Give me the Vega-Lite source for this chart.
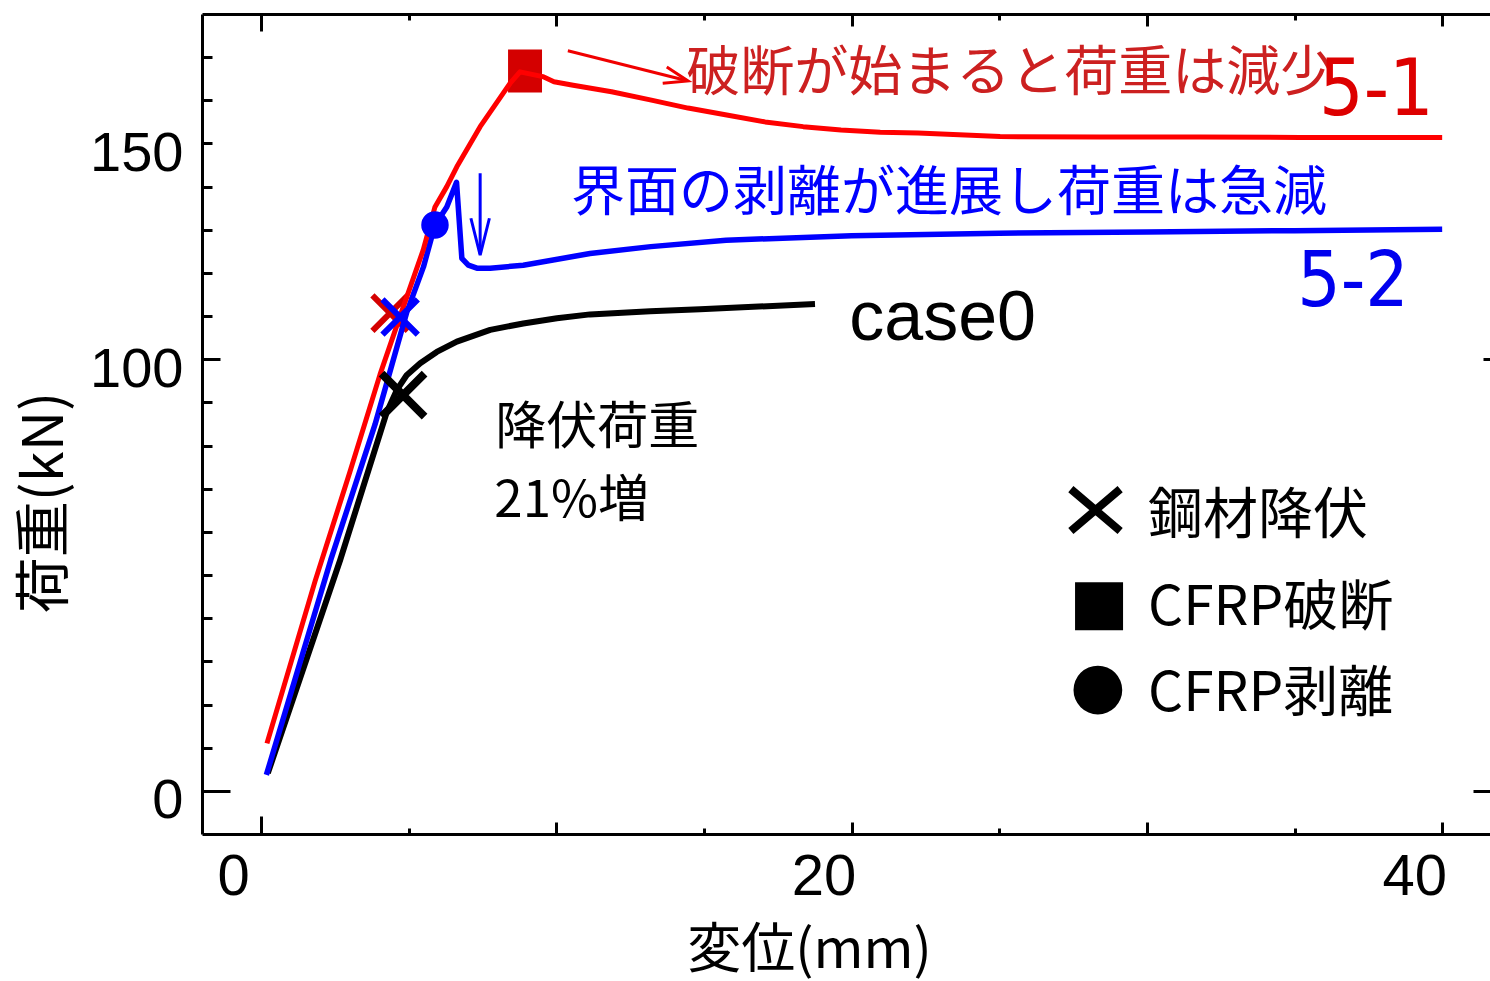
{
"$schema": "https://vega.github.io/schema/vega-lite/v6.json",
"width": 1288, "height": 820,
"autosize": {"type": "none"},
"padding": {"left": 202, "top": 14, "right": 0, "bottom": 147},
"background": "white",
"config": {"view": {"stroke": null}, "axis": {"grid": false, "domainColor": "#000000", "domainWidth": 3, "tickColor": "#000000", "tickWidth": 3, "labelColor": "#000000", "titleColor": "#000000"}},
"resolve": {"axis": {"x": "independent", "y": "independent"}},
"layer": [
{"data": {"values": [{"x": 8.94, "y": 166.8, "event": "CFRP破断"}]},
 "mark": {"type": "point", "shape": "M-0.79,-1H0.79V1H-0.79Z", "filled": true, "size": 1849, "color": "#d40000", "opacity": 1},
 "encoding": {"x": {"field": "x", "type": "quantitative", "scale": {"domain": [-2, 41.62], "nice": false, "zero": false}, "axis": null},
  "y": {"field": "y", "type": "quantitative", "scale": {"domain": [-10, 180], "nice": false, "zero": false}, "axis": null}}},
{"data": {"values": [{"x": 4.37, "y": 110.7, "event": "鋼材降伏"}]},
 "mark": {"type": "point", "shape": "M-1,-1L1,1M-1,1L1,-1", "filled": false, "size": 1250, "strokeWidth": 6, "strokeCap": "butt", "color": "#d40000", "opacity": 1},
 "encoding": {"x": {"field": "x", "type": "quantitative", "scale": {"domain": [-2, 41.62], "nice": false, "zero": false}, "axis": null},
  "y": {"field": "y", "type": "quantitative", "scale": {"domain": [-10, 180], "nice": false, "zero": false}, "axis": null}}},
{"data": {"values": [
  {"s": "case0", "x": 0.23, "y": 4.1}, {"s": "case0", "x": 2.68, "y": 53.5}, {"s": "case0", "x": 4.26, "y": 87.8}, {"s": "case0", "x": 4.60, "y": 92.9}, {"s": "case0", "x": 4.93, "y": 96.3}, {"s": "case0", "x": 5.39, "y": 99.1}, {"s": "case0", "x": 5.95, "y": 101.7}, {"s": "case0", "x": 6.63, "y": 104.1}, {"s": "case0", "x": 7.76, "y": 106.8}, {"s": "case0", "x": 8.88, "y": 108.3}, {"s": "case0", "x": 10.02, "y": 109.5}, {"s": "case0", "x": 11.14, "y": 110.4}, {"s": "case0", "x": 13.18, "y": 111.1}, {"s": "case0", "x": 14.87, "y": 111.6}, {"s": "case0", "x": 18.76, "y": 112.8},
  {"s": "5-2", "x": 0.18, "y": 3.7}, {"s": "5-2", "x": 2.36, "y": 53.5}, {"s": "5-2", "x": 3.86, "y": 84.9}, {"s": "5-2", "x": 4.93, "y": 110.8}, {"s": "5-2", "x": 5.50, "y": 121.4}, {"s": "5-2", "x": 5.89, "y": 131.1}, {"s": "5-2", "x": 6.29, "y": 135.3}, {"s": "5-2", "x": 6.62, "y": 141.0}, {"s": "5-2", "x": 6.80, "y": 123.4}, {"s": "5-2", "x": 7.02, "y": 121.8}, {"s": "5-2", "x": 7.31, "y": 121.1}, {"s": "5-2", "x": 7.76, "y": 121.1}, {"s": "5-2", "x": 8.88, "y": 121.8}, {"s": "5-2", "x": 11.14, "y": 124.5}, {"s": "5-2", "x": 13.2, "y": 126.1}, {"s": "5-2", "x": 15.75, "y": 127.6}, {"s": "5-2", "x": 20.0, "y": 128.6}, {"s": "5-2", "x": 25.0, "y": 129.2}, {"s": "5-2", "x": 30.0, "y": 129.5}, {"s": "5-2", "x": 35.0, "y": 129.8}, {"s": "5-2", "x": 40.0, "y": 130.1},
  {"s": "5-1", "x": 0.20, "y": 11.0}, {"s": "5-1", "x": 1.83, "y": 48.6}, {"s": "5-1", "x": 3.0, "y": 73.7}, {"s": "5-1", "x": 4.03, "y": 96.5}, {"s": "5-1", "x": 4.77, "y": 111.2}, {"s": "5-1", "x": 5.49, "y": 125.3}, {"s": "5-1", "x": 5.89, "y": 135.3}, {"s": "5-1", "x": 6.29, "y": 140.0}, {"s": "5-1", "x": 6.63, "y": 144.6}, {"s": "5-1", "x": 7.42, "y": 153.9}, {"s": "5-1", "x": 8.43, "y": 163.9}, {"s": "5-1", "x": 8.77, "y": 166.6}, {"s": "5-1", "x": 9.54, "y": 165.5}, {"s": "5-1", "x": 9.92, "y": 164.3}, {"s": "5-1", "x": 10.57, "y": 163.5}, {"s": "5-1", "x": 11.87, "y": 162.0}, {"s": "5-1", "x": 13.18, "y": 160.1}, {"s": "5-1", "x": 14.46, "y": 158.2}, {"s": "5-1", "x": 15.77, "y": 156.6}, {"s": "5-1", "x": 17.07, "y": 155.0}, {"s": "5-1", "x": 18.36, "y": 153.9}, {"s": "5-1", "x": 19.64, "y": 153.1}, {"s": "5-1", "x": 20.97, "y": 152.6}, {"s": "5-1", "x": 22.25, "y": 152.4}, {"s": "5-1", "x": 25.03, "y": 151.6}, {"s": "5-1", "x": 28.42, "y": 151.5}, {"s": "5-1", "x": 31.80, "y": 151.5}, {"s": "5-1", "x": 35.19, "y": 151.4}, {"s": "5-1", "x": 40.0, "y": 151.4}
 ]},
 "mark": {"type": "line", "strokeCap": "butt", "strokeJoin": "round"},
 "encoding": {
  "x": {"field": "x", "type": "quantitative", "scale": {"domain": [-2, 41.62], "nice": false, "zero": false},
   "axis": {"orient": "bottom", "values": [0, 20, 40], "ticks": false, "domain": true, "format": "d", "labelFont": "Liberation Sans, sans-serif", "labelFontSize": 58, "labelPadding": 14, "labelBaseline": "top", "labelAlign": "center", "labelOffset": -28, "labelFlush": false, "labelOverlap": false, "labelBound": false,
    "title": "変位(mm)", "titleFont": "Noto Sans CJK JP", "titleFontSize": 54, "titleFontWeight": "normal", "titleX": 607, "titleY": 117, "titleAlign": "center", "titleBaseline": "middle"}},
  "y": {"field": "y", "type": "quantitative", "scale": {"domain": [-10, 180], "nice": false, "zero": false},
   "axis": {"orient": "left", "values": [0, 100, 150], "ticks": false, "domain": true, "format": "d", "labelFont": "Liberation Sans, sans-serif", "labelFontSize": 56, "labelPadding": 19, "labelBaseline": "middle", "labelAlign": "right", "labelOffset": 10, "labelFlush": false, "labelOverlap": false, "labelBound": false,
    "title": "荷重(kN)", "titleFont": "Noto Sans CJK JP", "titleFontSize": 56, "titleFontWeight": "normal", "titleX": -157, "titleY": 488, "titleAngle": 270, "titleAlign": "center", "titleBaseline": "middle"}},
  "color": {"field": "s", "type": "nominal", "scale": {"domain": ["case0", "5-2", "5-1"], "range": ["#000000", "#0000ff", "#ff0000"]}, "legend": null},
  "strokeWidth": {"field": "s", "type": "nominal", "scale": {"domain": ["case0", "5-2", "5-1"], "range": [6, 5, 5]}, "legend": null}}},
{"data": {"values": [{"x": 4.71, "y": 109.8, "event": "鋼材降伏"}]},
 "mark": {"type": "point", "shape": "M-1,-1L1,1M-1,1L1,-1", "filled": false, "size": 1250, "strokeWidth": 6, "strokeCap": "butt", "color": "#0000ff", "opacity": 1},
 "encoding": {
  "x": {"field": "x", "type": "quantitative", "scale": {"domain": [-2, 41.62], "nice": false, "zero": false},
   "axis": {"orient": "bottom", "values": [0, 5, 10, 15, 20, 25, 30, 35, 40], "domain": false, "labels": false, "title": null, "tickSize": {"condition": [{"test": "datum.value === 0", "value": -18}, {"test": "datum.value % 10 === 0", "value": -12}], "value": -6}}},
  "y": {"field": "y", "type": "quantitative", "scale": {"domain": [-10, 180], "nice": false, "zero": false},
   "axis": {"orient": "left", "values": [0, 10, 20, 30, 40, 50, 60, 70, 80, 90, 100, 110, 120, 130, 140, 150, 160, 170], "domain": false, "labels": false, "title": null, "tickSize": {"condition": [{"test": "datum.value === 0", "value": -28}, {"test": "datum.value === 100", "value": -18}], "value": -10}}}}},
{"data": {"values": [{"x": 4.81, "y": 91.7, "event": "鋼材降伏"}]},
 "mark": {"type": "point", "shape": "M-1,-1L1,1M-1,1L1,-1", "filled": false, "size": 1850, "strokeWidth": 8, "strokeCap": "butt", "color": "#000000", "opacity": 1},
 "encoding": {
  "x": {"field": "x", "type": "quantitative", "scale": {"domain": [-2, 41.62], "nice": false, "zero": false},
   "axis": {"orient": "top", "values": [0, 5, 10, 15, 20, 25, 30, 35, 40], "domain": true, "labels": false, "title": null, "tickSize": {"condition": [{"test": "datum.value === 0", "value": -17}, {"test": "datum.value % 10 === 0", "value": -12}], "value": -6}}},
  "y": {"field": "y", "type": "quantitative", "scale": {"domain": [-10, 180], "nice": false, "zero": false},
   "axis": {"orient": "right", "values": [0, 100], "domain": false, "labels": false, "title": null, "tickSize": {"condition": [{"test": "datum.value === 0", "value": -17}], "value": -7}}}}},
{"data": {"values": [{"x": 5.89, "y": 131.1, "event": "CFRP剥離"}]},
 "mark": {"type": "point", "shape": "circle", "filled": true, "size": 755, "color": "#0000ff", "opacity": 1},
 "encoding": {"x": {"field": "x", "type": "quantitative", "scale": {"domain": [-2, 41.62], "nice": false, "zero": false}, "axis": null},
  "y": {"field": "y", "type": "quantitative", "scale": {"domain": [-10, 180], "nice": false, "zero": false}, "axis": null}}},
{"data": {"values": [{"x": 28.26, "y": 65.06, "event": "鋼材降伏"}]},
 "mark": {"type": "point", "shape": "M-1,-0.85L1,0.85M-1,0.85L1,-0.85", "filled": false, "size": 2430, "strokeWidth": 8, "strokeCap": "butt", "color": "#000000", "opacity": 1},
 "encoding": {"x": {"field": "x", "type": "quantitative", "scale": {"domain": [-2, 41.62], "nice": false, "zero": false}, "axis": null},
  "y": {"field": "y", "type": "quantitative", "scale": {"domain": [-10, 180], "nice": false, "zero": false}, "axis": null}}},
{"data": {"values": [{"x": 28.38, "y": 42.8, "event": "CFRP破断"}]},
 "mark": {"type": "point", "shape": "square", "filled": true, "size": 2304, "color": "#000000", "opacity": 1},
 "encoding": {"x": {"field": "x", "type": "quantitative", "scale": {"domain": [-2, 41.62], "nice": false, "zero": false}, "axis": null},
  "y": {"field": "y", "type": "quantitative", "scale": {"domain": [-10, 180], "nice": false, "zero": false}, "axis": null}}},
{"data": {"values": [{"x": 28.34, "y": 23.36, "event": "CFRP剥離"}]},
 "mark": {"type": "point", "shape": "circle", "filled": true, "size": 2376, "color": "#000000", "opacity": 1},
 "encoding": {"x": {"field": "x", "type": "quantitative", "scale": {"domain": [-2, 41.62], "nice": false, "zero": false}, "axis": null},
  "y": {"field": "y", "type": "quantitative", "scale": {"domain": [-10, 180], "nice": false, "zero": false}, "axis": null}}},
{"data": {"values": [{"x": 10.39, "y": 171.5, "x2": 14.40, "y2": 164.6}]},
 "mark": {"type": "rule", "strokeWidth": 3, "color": "#f00000"},
 "encoding": {"x": {"field": "x", "type": "quantitative", "scale": {"domain": [-2, 41.62], "nice": false, "zero": false}, "axis": null},
  "y": {"field": "y", "type": "quantitative", "scale": {"domain": [-10, 180], "nice": false, "zero": false}, "axis": null},
  "x2": {"field": "x2"}, "y2": {"field": "y2"}}},
{"data": {"values": [{"x": 14.46, "y": 164.5}]},
 "mark": {"type": "point", "shape": "M-1,-0.35L0,0L-1,0.35", "filled": false, "size": 2304, "angle": 14, "strokeWidth": 3, "color": "#f00000", "opacity": 1},
 "encoding": {"x": {"field": "x", "type": "quantitative", "scale": {"domain": [-2, 41.62], "nice": false, "zero": false}, "axis": null},
  "y": {"field": "y", "type": "quantitative", "scale": {"domain": [-10, 180], "nice": false, "zero": false}, "axis": null}}},
{"data": {"values": [{"x": 7.42, "y": 143.1, "x2": 7.42, "y2": 124.4}]},
 "mark": {"type": "rule", "strokeWidth": 3, "color": "#0000ff"},
 "encoding": {"x": {"field": "x", "type": "quantitative", "scale": {"domain": [-2, 41.62], "nice": false, "zero": false}, "axis": null},
  "y": {"field": "y", "type": "quantitative", "scale": {"domain": [-10, 180], "nice": false, "zero": false}, "axis": null},
  "x2": {"field": "x2"}, "y2": {"field": "y2"}}},
{"data": {"values": [{"x": 7.42, "y": 124.1}]},
 "mark": {"type": "point", "shape": "M-1,-0.25L0,0L-1,0.25", "filled": false, "size": 5476, "angle": 90, "strokeWidth": 3, "color": "#0000ff", "opacity": 1},
 "encoding": {"x": {"field": "x", "type": "quantitative", "scale": {"domain": [-2, 41.62], "nice": false, "zero": false}, "axis": null},
  "y": {"field": "y", "type": "quantitative", "scale": {"domain": [-10, 180], "nice": false, "zero": false}, "axis": null}}},
{"data": {"values": [{"x": 14.40, "y": 165.8, "text": "破断が始まると荷重は減少"}]},
 "mark": {"type": "text", "align": "left", "baseline": "middle", "font": "Noto Sans CJK JP", "fontSize": 54, "color": "#cc2020"},
 "encoding": {"x": {"field": "x", "type": "quantitative", "scale": {"domain": [-2, 41.62], "nice": false, "zero": false}, "axis": null},
  "y": {"field": "y", "type": "quantitative", "scale": {"domain": [-10, 180], "nice": false, "zero": false}, "axis": null},
  "text": {"field": "text"}}},
{"data": {"values": [{"x": 35.83, "y": 162.0, "text": "5-1"}]},
 "mark": {"type": "text", "align": "left", "baseline": "middle", "font": "DejaVu Sans Condensed, DejaVu Sans, sans-serif", "fontSize": 78, "color": "#dd0000"},
 "encoding": {"x": {"field": "x", "type": "quantitative", "scale": {"domain": [-2, 41.62], "nice": false, "zero": false}, "axis": null},
  "y": {"field": "y", "type": "quantitative", "scale": {"domain": [-10, 180], "nice": false, "zero": false}, "axis": null},
  "text": {"field": "text"}}},
{"data": {"values": [{"x": 10.50, "y": 138.0, "text": "界面の剥離が進展し荷重は急減"}]},
 "mark": {"type": "text", "align": "left", "baseline": "middle", "font": "Noto Sans CJK JP", "fontSize": 54, "color": "#0000ff"},
 "encoding": {"x": {"field": "x", "type": "quantitative", "scale": {"domain": [-2, 41.62], "nice": false, "zero": false}, "axis": null},
  "y": {"field": "y", "type": "quantitative", "scale": {"domain": [-10, 180], "nice": false, "zero": false}, "axis": null},
  "text": {"field": "text"}}},
{"data": {"values": [{"x": 35.09, "y": 117.6, "text": "5-2"}]},
 "mark": {"type": "text", "align": "left", "baseline": "middle", "font": "DejaVu Sans Condensed, DejaVu Sans, sans-serif", "fontSize": 76, "color": "#0000ee"},
 "encoding": {"x": {"field": "x", "type": "quantitative", "scale": {"domain": [-2, 41.62], "nice": false, "zero": false}, "axis": null},
  "y": {"field": "y", "type": "quantitative", "scale": {"domain": [-10, 180], "nice": false, "zero": false}, "axis": null},
  "text": {"field": "text"}}},
{"data": {"values": [{"x": 19.92, "y": 109.3, "text": "case0"}]},
 "mark": {"type": "text", "align": "left", "baseline": "middle", "font": "Liberation Sans, sans-serif", "fontSize": 70, "color": "#000000"},
 "encoding": {"x": {"field": "x", "type": "quantitative", "scale": {"domain": [-2, 41.62], "nice": false, "zero": false}, "axis": null},
  "y": {"field": "y", "type": "quantitative", "scale": {"domain": [-10, 180], "nice": false, "zero": false}, "axis": null},
  "text": {"field": "text"}}},
{"data": {"values": [{"x": 7.93, "y": 83.9, "text": "降伏荷重"}, {"x": 7.90, "y": 66.9, "text": "21%増"}]},
 "mark": {"type": "text", "align": "left", "baseline": "middle", "font": "Noto Sans CJK JP", "fontSize": 51, "color": "#000000"},
 "encoding": {"x": {"field": "x", "type": "quantitative", "scale": {"domain": [-2, 41.62], "nice": false, "zero": false}, "axis": null},
  "y": {"field": "y", "type": "quantitative", "scale": {"domain": [-10, 180], "nice": false, "zero": false}, "axis": null},
  "text": {"field": "text"}}},
{"data": {"values": [{"x": 30.04, "y": 63.6, "text": "鋼材降伏"}, {"x": 30.04, "y": 42.4, "text": "CFRP破断"}, {"x": 30.04, "y": 22.4, "text": "CFRP剥離"}]},
 "mark": {"type": "text", "align": "left", "baseline": "middle", "font": "Noto Sans CJK JP", "fontSize": 55, "color": "#000000"},
 "encoding": {"x": {"field": "x", "type": "quantitative", "scale": {"domain": [-2, 41.62], "nice": false, "zero": false}, "axis": null},
  "y": {"field": "y", "type": "quantitative", "scale": {"domain": [-10, 180], "nice": false, "zero": false}, "axis": null},
  "text": {"field": "text"}}}
]
}
